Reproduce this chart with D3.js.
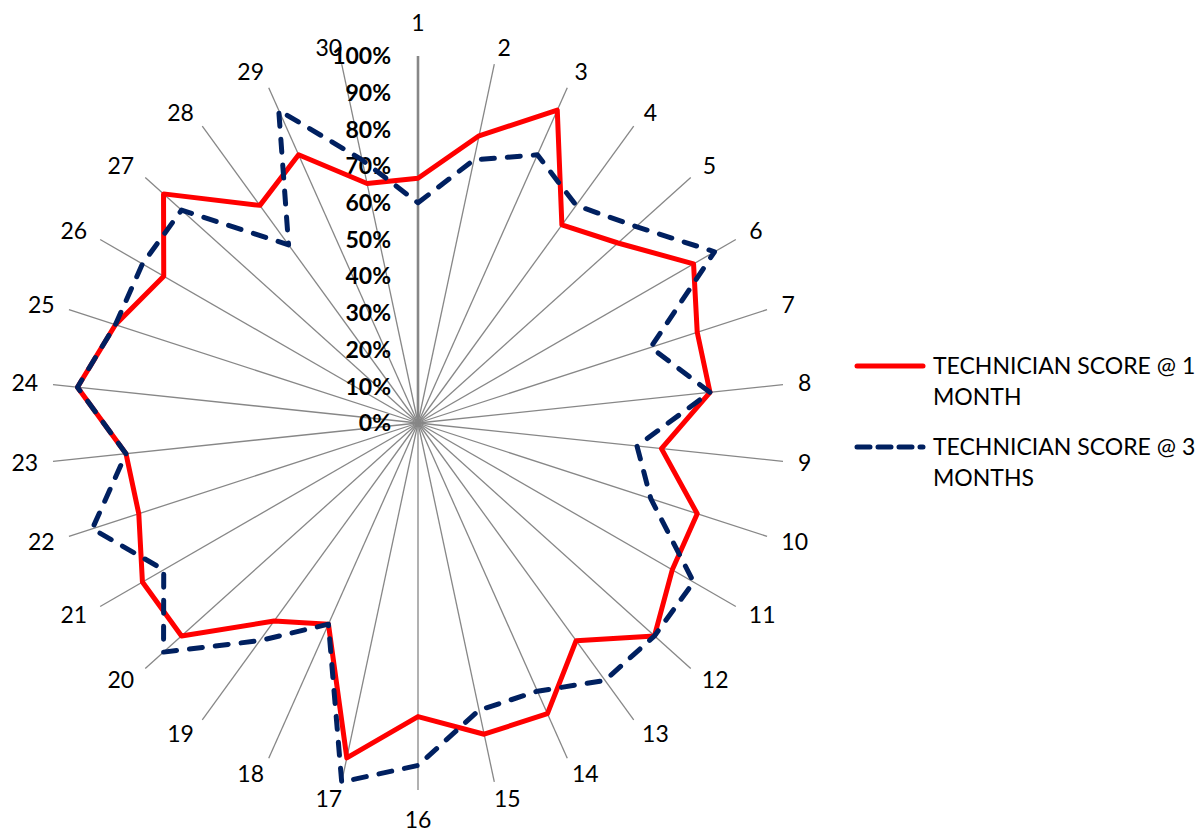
<!DOCTYPE html>
<html>
<head>
<meta charset="utf-8">
<script src="https://cdn.jsdelivr.net/npm/d3@7"></script>
<style>
  html, body { margin: 0; padding: 0; background: #fff; }
  svg { display: block; }
  text { font-family: Lato, "Open Sans", sans-serif; fill: #000; }
</style>
</head>
<body>
<svg id="chart" width="1204" height="834"></svg>
<script>
// Technician scores per skill item (percent)
const categories = ["1","2","3","4","5","6","7","8","9","10","11","12","13","14","15",
                    "16","17","18","19","20","21","22","23","24","25","26","27","28","29","30"];
const scoreMonth1 = [66.7, 80, 93.3, 66.7, 73.3, 86.7, 80, 80, 66.7, 80,
                     80, 86.7, 73.3, 86.7, 86.7, 80, 93.3, 60, 66.7, 86.7,
                     86.7, 80, 80, 93.3, 86.7, 80, 93.3, 73.3, 80, 66.7];
const scoreMonth3 = [60, 73.3, 80, 73.3, 80, 93.3, 66.7, 80, 60, 66.7,
                     86.7, 86.7, 86.7, 80, 80, 93.3, 100, 60, 73.3, 93.3,
                     80, 93.3, 80, 93.3, 86.7, 86.7, 86.7, 60, 93.3, 73.3];
const tickValues = [0, 10, 20, 30, 40, 50, 60, 70, 80, 90, 100];
const seriesNames = ["TECHNICIAN SCORE @ 1 MONTH", "TECHNICIAN SCORE @ 3 MONTHS"];

const svg = d3.select("#chart");
const cx = 418, cy = 423, R = 367;

const r = d3.scaleLinear().domain([0, 100]).range([0, R]);
const angle = d3.scalePoint().domain(categories).range([0, 2 * Math.PI * (categories.length - 1) / categories.length]);

const g = svg.append("g").attr("transform", `translate(${cx},${cy})`);

// spokes
g.selectAll("line.spoke")
  .data(categories)
  .join("line")
  .attr("class", "spoke")
  .attr("x1", 0).attr("y1", 0)
  .attr("x2", d => r(100) * Math.sin(angle(d)))
  .attr("y2", d => -r(100) * Math.cos(angle(d)))
  .attr("stroke", "#878787")
  .attr("stroke-width", (d, i) => i === 0 ? 2.6 : 1.3);

// category labels around the rim
const catLabels = g.selectAll("text.cat")
  .data(categories)
  .join("text")
  .attr("class", "cat")
  .attr("font-size", 23)
  .attr("text-anchor", "middle")
  .attr("dy", "0.36em")
  .text(d => d);

catLabels.each(function(d) {
  const a = angle(d);
  const s = Math.sin(a), c = Math.cos(a);
  const hw = this.getComputedTextLength() / 2;
  const ex = r(100) * s, ey = -r(100) * c;
  let ox, oy;
  if (Math.abs(s) < 0.01) {
    ox = 0; oy = c > 0 ? -33 : 30;
  } else {
    ox = Math.sign(s) * (hw + 15) * Math.sqrt(Math.abs(s));
    oy = -17 * c;
  }
  d3.select(this).attr("x", ex + ox).attr("y", ey + oy);
});

// value axis labels along the first spoke
g.selectAll("text.tick")
  .data(tickValues)
  .join("text")
  .attr("class", "tick")
  .attr("font-size", 23)
  .attr("font-weight", "bold")
  .attr("text-anchor", "end")
  .attr("x", -27)
  .attr("y", d => -r(d))
  .attr("dy", "0.36em")
  .text(d => d + "%");

// series outlines
const radial = d3.lineRadial()
  .angle((d, i) => angle(categories[i]))
  .radius(d => r(d))
  .curve(d3.curveLinearClosed);

g.append("path")
  .datum(scoreMonth1)
  .attr("d", radial)
  .attr("fill", "none")
  .attr("stroke", "#ff0000")
  .attr("stroke-width", 5)
  .attr("stroke-linejoin", "round");

g.append("path")
  .datum(scoreMonth3)
  .attr("d", radial)
  .attr("fill", "none")
  .attr("stroke", "#002060")
  .attr("stroke-width", 5)
  .attr("stroke-linejoin", "round")
  .attr("stroke-linecap", "round")
  .attr("stroke-dasharray", "13,13");

// legend
const legend = svg.append("g").attr("transform", "translate(855,0)");
const legendItems = [
  { name: seriesNames[0], color: "#ff0000", dash: null, y: 366, lines: ["TECHNICIAN SCORE @ 1", "MONTH"] },
  { name: seriesNames[1], color: "#002060", dash: "13,8", y: 447, lines: ["TECHNICIAN SCORE @ 3", "MONTHS"] }
];
legendItems.forEach(item => {
  legend.append("line")
    .attr("x1", 2).attr("x2", 68)
    .attr("y1", item.y).attr("y2", item.y)
    .attr("stroke", item.color)
    .attr("stroke-width", 5)
    .attr("stroke-linecap", "round")
    .attr("stroke-dasharray", item.dash);
  const t = legend.append("text")
    .attr("x", 78)
    .attr("y", item.y)
    .attr("font-size", 23)
    .attr("dy", "0.36em");
  item.lines.forEach((ln, k) => {
    t.append("tspan").attr("x", 78).attr("dy", k === 0 ? "0.36em" : 31).text(ln);
  });
});
</script>
</body>
</html>
